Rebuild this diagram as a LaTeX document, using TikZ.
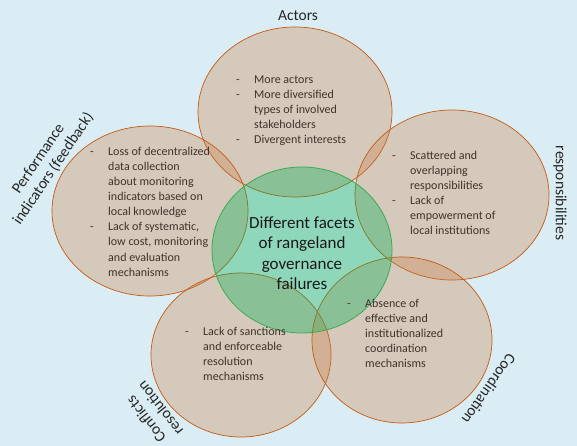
\documentclass[tikz,border=0pt]{standalone}
\usepackage{fontspec}
\setmainfont{Carlito}
\usepackage{tikz}
\usetikzlibrary{shapes,positioning}
\definecolor{skyback}{RGB}{219,237,244}
\definecolor{tanfill}{RGB}{200,120,60}
\definecolor{tanline}{RGB}{197,90,17}
\definecolor{hubfill}{RGB}{0,176,80}
\definecolor{hubline}{RGB}{60,170,80}
\definecolor{itemtext}{RGB}{64,50,42}
\tikzset{
	x=1pt, y=-1pt,
	facet/.style={ellipse, draw=tanline, line width=0.7pt, fill=tanfill, fill opacity=0.3, inner sep=0pt},
	hub/.style={ellipse, draw=hubline, line width=0.8pt, fill=hubfill, fill opacity=0.35, inner sep=0pt},
	items/.style={inner sep=0pt, anchor=base west, text=itemtext, font=\fontsize{12}{15}\selectfont},
	facetname/.style={inner sep=0pt, align=center, text=black!85, font=\fontsize{15.5}{18}\selectfont},
}
\newcommand{\facetlist}[1]{\begin{tabular}[t]{@{}p{18pt}@{}l@{}}#1\end{tabular}}

\begin{document}
\begin{tikzpicture}
		\useasboundingbox (0,0) rectangle (577,446);
		\fill[skyback] (0,0) rectangle (577,446);

		\node[facet, minimum width=194pt, minimum height=170pt] (actors) at (295,112) {};
		\node[facet, minimum width=196pt, minimum height=170pt] (perf) at (150,211) {};
		\node[facet, minimum width=194pt, minimum height=170pt] (resp) at (452,195) {};
		\node[facet, minimum width=180pt, minimum height=164pt] (confl) at (241,355) {};
		\node[facet, minimum width=180pt, minimum height=166pt] (coord) at (402,340) {};
		\node[hub, minimum width=180pt, minimum height=166pt] (center) at (302,250) {};

		\node[align=center, text=black!90, font=\fontsize{17}{20.5}\selectfont] (centertext) at (302,253)
			{Different facets\\of rangeland\\governance\\failures};

		\node[items] (actorsitems) at (236,84) {\facetlist{
			- & More actors\\
			- & More diversified\\
			  & types of involved\\
			  & stakeholders\\
			- & Divergent interests}};
		\node[items] (perfitems) at (90,156) {\facetlist{
			- & Loss of decentralized\\
			  & data collection\\
			  & about monitoring\\
			  & indicators based on\\
			  & local knowledge\\
			- & Lack of systematic,\\
			  & low cost, monitoring\\
			  & and evaluation\\
			  & mechanisms}};
		\node[items] (respitems) at (392,160) {\facetlist{
			- & Scattered and\\
			  & overlapping\\
			  & responsibilities\\
			- & Lack of\\
			  & empowerment of\\
			  & local institutions}};
		\node[items] (conflitems) at (185,335) {\facetlist{
			- & Lack of sanctions\\
			  & and enforceable\\
			  & resolution\\
			  & mechanisms}};
		\node[items] (coorditems) at (347,307) {\facetlist{
			- & Absence of\\
			  & effective and\\
			  & institutionalized\\
			  & coordination\\
			  & mechanisms}};

		\node[facetname] (actorsname) at (298,16) {Actors};
		\node[facetname, rotate=56] (perfname) at (46,164) {Performance\\indicators (feedback)};
		\node[facetname, rotate=-90] (respname) at (560,193) {responsibilities};
		\node[facetname, rotate=128] (conflname) at (153,414) {Conflicts\\resolution};
		\node[facetname, rotate=-125] (coordname) at (489,389) {Coordination};
	\end{tikzpicture}
\end{document}
